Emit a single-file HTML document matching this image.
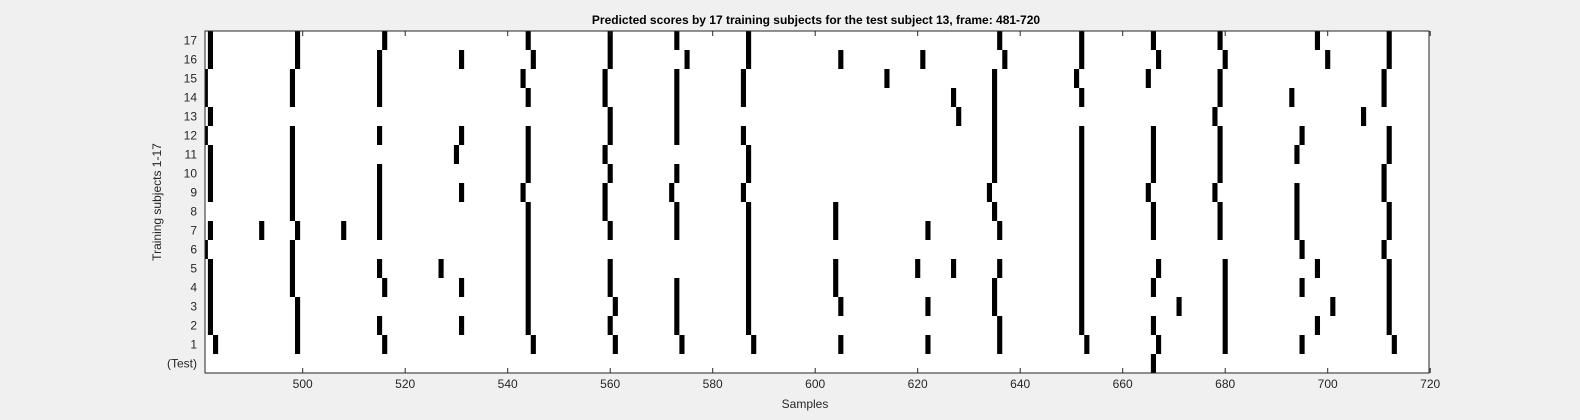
<!DOCTYPE html>
<html><head><meta charset="utf-8"><style>
html,body{margin:0;padding:0;background:#f0f0f0;}
svg{display:block;font-family:"Liberation Sans",Arial,sans-serif;}
</style></head><body>
<svg id="chart" width="1580" height="420">
<text x="816" y="24" text-anchor="middle" font-size="12" font-weight="bold" fill="#000">Predicted scores by 17 training subjects for the test subject 13, frame: 481-720</text>
<rect x="205" y="31" width="1224" height="342" fill="#fff"/>
<g id="cells"></g>
<g id="axes"></g>
<rect x="205" y="31" width="1224" height="342" fill="none" stroke="#262626" stroke-width="1"/>
<text x="805" y="408" text-anchor="middle" font-size="12" fill="#262626">Samples</text>
<text transform="translate(161,202) rotate(-90)" text-anchor="middle" font-size="12" fill="#262626">Training subjects 1-17</text>
</svg>
<script>
const rowLabels = ["(Test)","1","2","3","4","5","6","7","8","9","10","11","12","13","14","15","16","17"];
const xTicks = [500,520,540,560,580,600,620,640,660,680,700,720];
const rowTest = [666];
const row1 = [483,499,516,545,561,574,588,605,622,636,653,667,680,695,713];
const row2 = [482,499,515,531,544,560,573,587,636,652,666,680,698,712];
const row3 = [482,499,544,561,573,587,605,622,635,652,671,680,701,712];
const row4 = [482,498,516,531,544,560,573,587,604,635,652,666,680,695,712];
const row5 = [482,498,515,527,544,560,587,604,620,627,636,652,667,680,698,712];
const row6 = [481,498,544,587,652,695,711];
const row7 = [482,492,499,508,515,544,560,573,587,604,622,636,652,666,679,694,712];
const row8 = [498,515,544,559,573,587,604,635,652,666,679,694,712];
const row9 = [482,498,515,531,543,559,572,586,634,652,665,678,694,711];
const row10 = [482,498,515,544,560,573,587,635,652,666,679,711];
const row11 = [482,498,530,544,559,587,635,652,666,679,694,712];
const row12 = [481,498,515,531,544,560,573,586,635,652,666,679,695,712];
const row13 = [482,560,573,628,635,678,707];
const row14 = [481,498,515,544,559,573,586,627,635,652,679,693,711];
const row15 = [481,498,515,543,559,573,586,614,635,651,665,679,711];
const row16 = [482,499,515,531,545,560,575,587,605,621,637,652,667,680,700,712];
const row17 = [482,499,516,544,560,573,587,636,652,666,679,698,712];
const rows = [rowTest,row1,row2,row3,row4,row5,row6,row7,row8,row9,row10,row11,row12,row13,row14,row15,row16,row17];

const NS="http://www.w3.org/2000/svg";
const L=205,R=1429,T=31,B=373;
function xs(v){return 302.7+(v-500)*5.125;}
const rowH=(B-T)/rows.length;
function ys(i){return B-(i+1)*rowH;}
const cells=document.getElementById('cells');
rows.forEach((r,i)=>{
  r.forEach(v=>{
    let x0=Math.max(L,xs(v-0.5)), x1=Math.min(R,xs(v+0.5));
    const c=document.createElementNS(NS,'rect');
    c.setAttribute('x',x0);c.setAttribute('y',ys(i));
    c.setAttribute('width',x1-x0);c.setAttribute('height',rowH);
    c.setAttribute('fill','#000');
    
    
    cells.appendChild(c);
  });
});
const ax=document.getElementById('axes');
xTicks.forEach(t=>{
  const x=xs(t);
  [[B,B-5],[T,T+5]].forEach(p=>{
    const l=document.createElementNS(NS,'line');
    l.setAttribute('x1',x);l.setAttribute('x2',x);l.setAttribute('y1',p[0]);l.setAttribute('y2',p[1]);
    l.setAttribute('stroke','#262626');
    
    
    ax.appendChild(l);
  });
  const tx=document.createElementNS(NS,'text');
  tx.setAttribute('x',x);tx.setAttribute('y',388);tx.setAttribute('text-anchor','middle');
  tx.setAttribute('font-size','12');tx.setAttribute('fill','#262626');
  tx.textContent=t;
  
  
  ax.appendChild(tx);
});
rowLabels.forEach((lab,i)=>{
  const y=ys(i)+rowH/2;
  const tx=document.createElementNS(NS,'text');
  tx.setAttribute('x',197);tx.setAttribute('y',y+4);tx.setAttribute('text-anchor','end');
  tx.setAttribute('font-size','12');tx.setAttribute('fill','#262626');
  tx.textContent=lab;
  
  
  ax.appendChild(tx);
});
</script>
</body></html>
